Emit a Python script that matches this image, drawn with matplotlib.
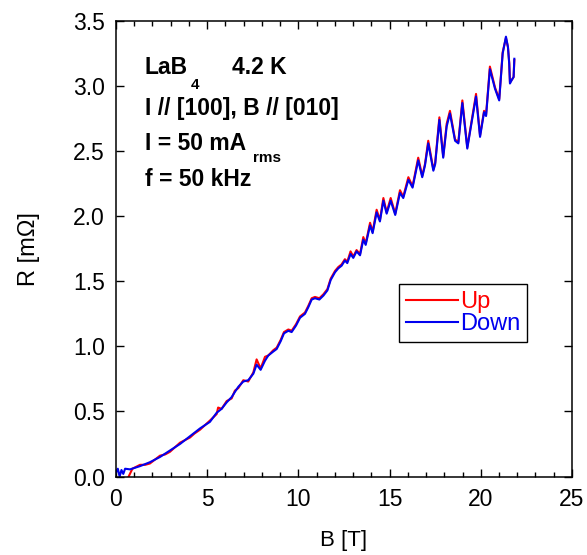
import numpy as np
import matplotlib.pyplot as plt

# field sweep down
b_down = [0.0, 0.1, 0.2, 0.3, 0.4, 0.5, 0.77, 1.32, 1.86, 2.41, 2.96, 3.51, 4.06, 4.61,
          5.15, 5.52, 5.79, 6.07, 6.34, 6.52, 6.71, 6.98, 7.25, 7.53, 7.71, 7.93, 8.17,
          8.35, 8.62, 8.81, 9.03, 9.21, 9.45, 9.63, 9.87, 10.09, 10.36, 10.54, 10.73,
          10.91, 11.15, 11.37, 11.59, 11.77, 12.01, 12.19, 12.37, 12.55, 12.68, 12.86,
          13.01, 13.19, 13.38, 13.56, 13.69, 13.93, 14.07, 14.29, 14.47, 14.66, 14.84,
          15.06, 15.31, 15.57, 15.75, 16.03, 16.26, 16.57, 16.79, 16.94, 17.12, 17.40,
          17.5, 17.73, 17.94, 18.13, 18.31, 18.59, 18.77, 18.99, 19.26, 19.46, 19.74,
          19.96, 20.18, 20.29, 20.50, 20.78, 21.01, 21.20, 21.38, 21.49, 21.56, 21.60,
          21.71, 21.80, 21.84]
r_down = [0.03, 0.06, 0.0, 0.05, 0.02, 0.06, 0.055, 0.08, 0.11, 0.15, 0.20, 0.25, 0.31,
          0.37, 0.42, 0.49, 0.52, 0.57, 0.61, 0.65, 0.69, 0.73, 0.74, 0.79, 0.86, 0.82,
          0.89, 0.93, 0.96, 0.98, 1.04, 1.10, 1.12, 1.11, 1.16, 1.22, 1.25, 1.30, 1.36,
          1.37, 1.36, 1.39, 1.43, 1.51, 1.57, 1.60, 1.62, 1.66, 1.64, 1.71, 1.68, 1.73,
          1.70, 1.82, 1.78, 1.93, 1.87, 2.03, 1.96, 2.12, 2.02, 2.12, 2.01, 2.18, 2.14,
          2.28, 2.22, 2.43, 2.30, 2.39, 2.56, 2.35, 2.40, 2.74, 2.45, 2.69, 2.79, 2.58,
          2.56, 2.87, 2.52, 2.69, 2.92, 2.61, 2.80, 2.77, 3.13, 2.98, 2.89, 3.25, 3.38,
          3.30, 3.17, 3.02, 3.05, 3.07, 3.21]

# field sweep up
b_up = [0.66, 0.9, 1.32, 1.6, 1.86, 2.41, 2.7, 2.96, 3.51, 4.06, 4.3, 4.61, 5.15, 5.52,
        5.6, 5.79, 6.07, 6.34, 6.52, 6.71, 6.98, 7.25, 7.53, 7.71, 7.93, 8.17, 8.35,
        8.62, 8.81, 9.03, 9.21, 9.45, 9.63, 9.87, 10.09, 10.36, 10.54, 10.73, 10.91,
        11.15, 11.37, 11.59, 11.77, 12.01, 12.19, 12.37, 12.55, 12.68, 12.86, 13.01,
        13.19, 13.38, 13.56, 13.69, 13.93, 14.07, 14.29, 14.47, 14.66, 14.84, 15.06,
        15.31, 15.57, 15.75, 16.03, 16.26, 16.57, 16.79, 16.94, 17.12, 17.40, 17.5,
        17.73, 17.94, 18.13, 18.31, 18.59, 18.77, 18.99, 19.26, 19.46, 19.74, 19.96,
        20.18, 20.29, 20.50, 20.78, 21.01, 21.20, 21.38, 21.49, 21.56, 21.60, 21.71,
        21.80, 21.84]
r_up = [-0.01, 0.06, 0.09, 0.09, 0.10, 0.16, 0.17, 0.19, 0.26, 0.30, 0.33, 0.36, 0.43,
        0.48, 0.53, 0.52, 0.58, 0.60, 0.66, 0.68, 0.74, 0.73, 0.80, 0.90, 0.83, 0.92,
        0.93, 0.97, 0.99, 1.05, 1.11, 1.13, 1.12, 1.17, 1.23, 1.26, 1.31, 1.37, 1.38,
        1.37, 1.40, 1.44, 1.52, 1.58, 1.61, 1.63, 1.67, 1.65, 1.73, 1.69, 1.74, 1.71,
        1.84, 1.79, 1.95, 1.88, 2.05, 1.97, 2.14, 2.03, 2.14, 2.02, 2.20, 2.15, 2.30,
        2.23, 2.45, 2.31, 2.40, 2.58, 2.36, 2.41, 2.76, 2.46, 2.71, 2.81, 2.59, 2.57,
        2.89, 2.53, 2.70, 2.94, 2.62, 2.81, 2.78, 3.15, 2.99, 2.90, 3.26, 3.37, 3.30,
        3.18, 3.03, 3.05, 3.07, 3.20]

plt.rcParams['font.family'] = ['Liberation Sans', 'DejaVu Sans']

fig = plt.figure(figsize=(5.87, 5.55), dpi=100)
ax = fig.add_axes([0.1976, 0.1414, 0.7768, 0.8207])

ax.plot(b_up, r_up, color='#ff0000', lw=1.5, label='Up')
ax.plot(b_down, r_down, color='#0000ee', lw=1.5, label='Down')

ax.set_xlim(0, 25)
ax.set_ylim(0, 3.5)
ax.set_xticks(np.arange(0, 26, 5))
ax.set_xticks(np.arange(0, 26, 1), minor=True)
ax.set_yticks(np.arange(0, 3.51, 0.5))
ax.set_yticklabels(['0.0', '0.5', '1.0', '1.5', '2.0', '2.5', '3.0', '3.5'])
ax.tick_params(which='both', direction='in', top=True, right=True, labelsize=16.5, width=1)
ax.tick_params(which='major', length=6, pad=8)
ax.tick_params(which='minor', length=3.5)
for s in ax.spines.values():
    s.set_linewidth(1.1)

ax.set_xlabel('B [T]', fontsize=16, labelpad=14)
ax.set_ylabel('R [m\u03a9]', fontsize=17, labelpad=24)

bold = dict(fontweight='bold', fontsize=16.5, va='center', ha='left')
ax.text(1.59, 3.14, 'LaB', **bold)
ax.text(4.1, 3.01, '4', fontweight='bold', fontsize=11, va='center', ha='left')
ax.text(6.36, 3.14, '4.2 K', **bold)
ax.text(1.59, 2.83, 'I // [100], B // [010]', **bold)
ax.text(1.59, 2.56, 'I = 50 mA', **bold)
ax.text(7.5, 2.45, 'rms', fontweight='bold', fontsize=11, va='center', ha='left')
ax.text(1.59, 2.28, 'f = 50 kHz', **bold)

leg = ax.legend(loc='upper left', bbox_to_anchor=(0.62, 0.423), fontsize=17,
                handlelength=2.2, handletextpad=0.1, labelspacing=0.0,
                borderpad=0.3, borderaxespad=0, fancybox=False, framealpha=1,
                labelcolor='linecolor')
leg.get_frame().set_edgecolor('black')
leg.get_frame().set_linewidth(1.0)

fig.savefig('out.png', dpi=100)
